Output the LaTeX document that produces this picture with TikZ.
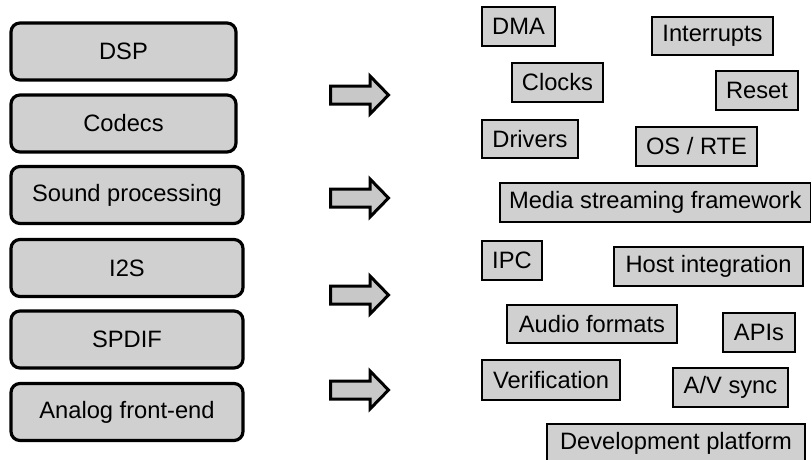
\documentclass[tikz,border=0pt]{standalone}
\usepackage{fontspec}
\setmainfont{Liberation Sans}
\definecolor{boxfill}{RGB}{208,208,208}
\definecolor{arrowfill}{RGB}{200,200,200}
\tikzset{
  x=1pt, y=-1pt,
  font=\fontsize{23.7}{28}\selectfont,
  layerbox/.style={draw=black, fill=boxfill, line width=3.2pt, rounded corners=9pt,
    inner sep=0pt, minimum height=57pt, text=black},
  topicbox/.style={draw=black, fill=boxfill, line width=1.6pt, inner sep=0pt,
    text=black},
  blockarrow/.pic={
    \draw[line width=3pt, fill=arrowfill, line join=miter]
      (-29,-9) -- (10.5,-9) -- (10.5,-19) -- (29,0) -- (10.5,19) -- (10.5,9)
      -- (-29,9) -- cycle;
  }
}
% box from its corners: name, x1, y1, x2, y2, text
\newcommand{\topic}[6]{%
  \node[topicbox, minimum width={#4-#2}, minimum height={#5-#3}]
    (#1) at ({(#2+#4)/2},{(#3+#5)/2}) {#6};}
\begin{document}
\begin{tikzpicture}
\useasboundingbox (0,0) rectangle (812,459);
\clip (0,0) rectangle (812,459);

% hardware layers
\node[layerbox, minimum width=225pt] (dsp)    at (123.5,51.5)  {DSP};
\node[layerbox, minimum width=225pt] (codecs) at (123.5,123.5) {Codecs};
\node[layerbox, minimum width=232pt] (sound)  at (127,195)     {Sound processing};
\node[layerbox, minimum width=232pt] (iis)    at (127,268)     {I2S};
\node[layerbox, minimum width=232pt] (spdif)  at (127,339.5)   {SPDIF};
\node[layerbox, minimum width=232pt] (afe)    at (127,412)     {Analog front-end};

% block arrows
\pic (arrA) at (359.5,95)  {blockarrow};
\pic (arrB) at (359.5,198) {blockarrow};
\pic (arrC) at (359.5,295) {blockarrow};
\pic (arrD) at (359.5,390) {blockarrow};

% software topics
\topic{dma}{482}{7}{555}{46}{DMA}
\topic{irq}{652}{17}{773}{55}{Interrupts}
\topic{clk}{512}{63}{603}{102}{Clocks}
\topic{rst}{716}{71}{798}{110}{Reset}
\topic{drv}{482}{120}{578}{158}{Drivers}
\topic{os}{636}{127}{757}{166}{OS / RTE}
\topic{msf}{500}{183}{810.5}{222}{Media streaming framework}
\topic{ipc}{482}{241}{542}{280}{IPC}
\topic{host}{614}{247}{803}{286}{Host integration}
\topic{fmt}{507}{305}{677}{343}{Audio formats}
\topic{api}{723}{313}{795}{352}{APIs}
\topic{ver}{482}{360}{620}{400}{Verification}
\topic{avs}{673}{368}{788}{407}{A/V sync}
\topic{dev}{547}{424}{805}{463}{Development platform}
\end{tikzpicture}
\end{document}
